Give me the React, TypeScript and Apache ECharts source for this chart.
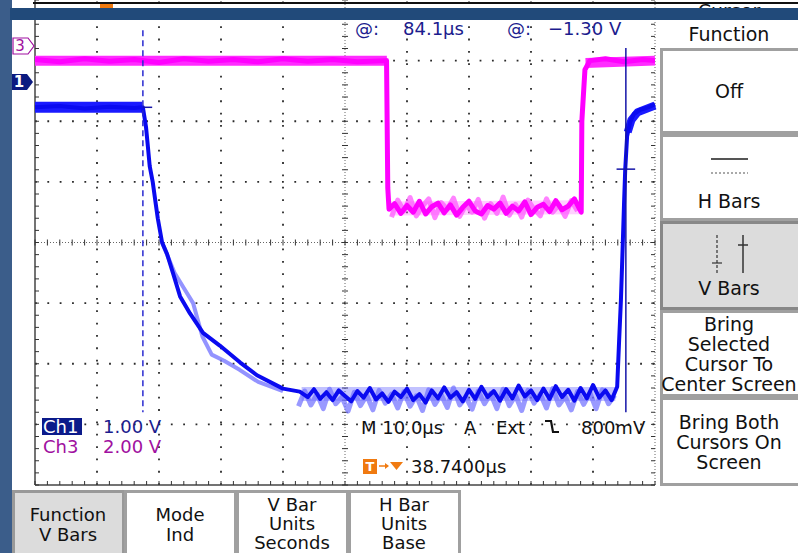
import React, { useEffect, useRef } from "react";
import * as echarts from "echarts";

const FONT = "DejaVu Sans";

// 10 µs per division horizontally (10 div), 8 vertical divisions
const timeRange = [0, 100];
const divRange = [-4, 4];
const timeGridLines = [0, 10, 20, 30, 40, 50, 60, 70, 80, 90, 100];
const divGridLines = [-4, -3, -2, -1, 0, 1, 2, 3, 4];

// Ch3 (magenta) trace, in µs / divisions
const ch3Trace = [
  [0, 3.02], [4, 2.98], [8, 3.03], [12, 2.99], [16, 3.02], [20, 2.97], [24, 3.03], [28, 2.99],
  [32, 3.02], [36, 2.98], [40, 3.03], [44, 2.99], [48, 3.02], [52, 2.98], [56.7, 3.0],
  [56.9, 0.9], [57.1, 0.55],
  [58, 0.64], [59, 0.48], [60, 0.61], [61, 0.5], [62, 0.68], [63, 0.47], [64, 0.59], [65, 0.65],
  [66, 0.49], [67, 0.62], [68, 0.45], [69, 0.58], [70, 0.68], [71, 0.52], [72, 0.47], [73, 0.61],
  [74, 0.55], [75, 0.65], [76, 0.48], [77, 0.6], [78, 0.52], [79, 0.67], [80, 0.46], [81, 0.58],
  [82, 0.63], [83, 0.51], [84, 0.69], [85, 0.54], [86, 0.6], [87, 0.72], [87.8, 0.56],
  [88.1, 0.5], [88.2, 2.0], [88.7, 2.85], [89.5, 3.0], [92, 3.03], [95, 2.98], [98, 3.02], [100, 3.0],
];
const ch3LowGhost = [
  [57.5, 0.42], [58.5, 0.7], [59.5, 0.52], [60.5, 0.74], [61.5, 0.44], [62.5, 0.6], [63.5, 0.72],
  [64.5, 0.41], [65.5, 0.66], [66.5, 0.55], [67.5, 0.73], [68.5, 0.43], [69.5, 0.62], [70.5, 0.5],
  [71.5, 0.71], [72.5, 0.4], [73.5, 0.64], [74.5, 0.48], [75.5, 0.75], [76.5, 0.45], [77.5, 0.63],
  [78.5, 0.42], [79.5, 0.7], [80.5, 0.55], [81.5, 0.44], [82.5, 0.72], [83.5, 0.5], [84.5, 0.62],
  [85.5, 0.43], [86.5, 0.69], [87.5, 0.52],
];
const ch3HighBandA = [[0, 3.0], [56.75, 3.0]];
const ch3HighBandB = [[88.8, 2.96], [100, 3.0]];
const ch3LowBand = [[57.3, 0.56], [87.8, 0.58]];

// Ch1 (blue) trace
const ch1Trace = [
  [0, 2.23], [4, 2.25], [8, 2.21], [12, 2.24], [16, 2.22], [17.4, 2.23],
  [17.9, 1.91], [18.2, 1.59], [18.5, 1.26], [19.0, 0.99], [19.5, 0.62], [19.8, 0.4], [20.5, 0.0],
  [21.3, -0.19], [22.3, -0.52], [23.4, -0.89], [25.0, -1.17], [27.1, -1.49], [29.8, -1.7],
  [33.1, -1.98], [35.8, -2.19], [40.0, -2.41], [42.7, -2.46],
  [44, -2.55], [45, -2.42], [46, -2.58], [47, -2.47], [48, -2.6], [49, -2.44], [50, -2.53],
  [51, -2.62], [52, -2.45], [53, -2.56], [54, -2.4], [55, -2.59], [56, -2.49], [57, -2.63],
  [58, -2.46], [59, -2.55], [60, -2.41], [61, -2.6], [62, -2.5], [63, -2.64], [64, -2.44],
  [65, -2.57], [66, -2.39], [67, -2.56], [68, -2.47], [69, -2.62], [70, -2.43], [71, -2.58],
  [72, -2.38], [73, -2.55], [74, -2.45], [75, -2.61], [76, -2.42], [77, -2.57], [78, -2.36],
  [79, -2.54], [80, -2.44], [81, -2.6], [82, -2.41], [83, -2.58], [84, -2.37], [85, -2.55],
  [86, -2.43], [87, -2.61], [88, -2.4], [89, -2.57], [90, -2.35], [91, -2.56], [92, -2.44],
  [93, -2.6],
  [93.9, -2.38], [94.2, -1.65], [94.5, -0.96], [94.8, -0.03], [95.0, 0.62], [95.2, 1.21],
  [95.5, 1.75], [96.0, 1.99], [96.6, 2.12], [97.6, 2.19], [98.9, 2.23], [100, 2.28],
];
const ch1LowGhost = [
  [42.5, -2.7], [43.5, -2.45], [44.5, -2.68], [45.5, -2.5], [46.5, -2.74], [47.5, -2.42],
  [48.5, -2.66], [49.5, -2.55], [50.5, -2.78], [51.5, -2.47], [52.5, -2.69], [53.5, -2.52],
  [54.5, -2.76], [55.5, -2.44], [56.5, -2.65], [57.5, -2.5], [58.5, -2.73], [59.5, -2.46],
  [60.5, -2.7], [61.5, -2.53], [62.5, -2.77], [63.5, -2.43], [64.5, -2.67], [65.5, -2.51],
  [66.5, -2.72], [67.5, -2.4], [68.5, -2.68], [69.5, -2.55], [70.5, -2.75], [71.5, -2.45],
  [72.5, -2.66], [73.5, -2.49], [74.5, -2.74], [75.5, -2.42], [76.5, -2.69], [77.5, -2.52],
  [78.5, -2.77], [79.5, -2.44], [80.5, -2.65], [81.5, -2.5], [82.5, -2.73], [83.5, -2.41],
  [84.5, -2.68], [85.5, -2.54], [86.5, -2.76], [87.5, -2.46], [88.5, -2.67], [89.5, -2.48],
  [90.5, -2.74], [91.5, -2.43], [92.5, -2.66], [93.5, -2.52],
];
const ch1HighBand = [[0, 2.23], [17.3, 2.23]];
const ch1LowBand = [[43, -2.5], [93.6, -2.5]];
const ch1FallGhost = [
  [20.5, 0.0], [22.5, -0.5], [24.0, -0.75], [25.5, -1.0], [27.0, -1.55], [28.5, -1.85],
  [30.5, -1.95], [33, -2.1], [36, -2.3], [40, -2.45],
];
const ch1EndBand = [[95.6, 1.82], [96.2, 2.02], [97.2, 2.15], [100, 2.26]];

// cursors
const cursor1Time = 17.4;
const cursor2Time = 95.3;
const cursor1Level = 2.23;
const cursor2Level = 1.21;
const cursor1Top = 3.5;
const cursor2Top = 3.21;
const cursorBottom = -2.8;

const renderGraticule = (_params: any, api: any) => {
  const c = (x: number, y: number) => api.coord([x, y]);
  const ch: any[] = [];
  const L = (x1: number, y1: number, x2: number, y2: number, style: any) =>
    ch.push({ type: "line", shape: { x1, y1, x2, y2 }, style });
  const dot = { stroke: "#2a2a2a", lineWidth: 1.8, lineDash: [1.8, 10.55], fill: null };
  const fine = { stroke: "#666", lineWidth: 1, lineDash: [1, 2], fill: null };
  const solid = { stroke: "#444", lineWidth: 1.5, fill: null };
  const tick = { stroke: "#333", lineWidth: 1, fill: null };
  const mid = (timeRange[0] + timeRange[1]) / 2;
  for (const t of timeGridLines) {
    if (t === timeRange[0] || t === timeRange[1] || t === mid) continue;
    const [x, yBot] = c(t, divRange[0]);
    const [, yTop] = c(t, divRange[1]);
    L(x, yBot, x, yTop, dot);
  }
  for (const v of divGridLines) {
    if (v === divRange[0] || v === divRange[1] || v === 0) continue;
    const [xl, y] = c(timeRange[0], v);
    const [xr] = c(timeRange[1], v);
    L(xl, y, xr, y, dot);
  }
  const [cx0, cy0] = c(mid, 0);
  const [xl0] = c(timeRange[0], 0);
  const [xr0] = c(timeRange[1], 0);
  const [, yT] = c(mid, divRange[1]);
  const [, yB] = c(mid, divRange[0]);
  L(xl0, cy0, xr0, cy0, fine);
  L(cx0, yB, cx0, yT, fine);
  L(xl0, yB, xl0, yT, solid);
  L(xl0, yB, xr0, yB, solid);
  L(xr0, yB, xr0, yT, fine);
  for (let i = 0; i <= 50; i++) {
    const t = timeRange[0] + i * 2;
    const [x] = c(t, 0);
    L(x, cy0 - 3, x, cy0 + 3, tick);
    L(x, yB, x, yB - 4, tick);
  }
  for (let i = 0; i <= 40; i++) {
    const v = divRange[0] + i * 0.2;
    const [, y] = c(mid, v);
    L(cx0 - 3, y, cx0 + 3, y, tick);
    L(xl0, y, xl0 + 4, y, tick);
    L(xr0, y, xr0 - 4, y, tick);
  }
  return { type: "group", children: ch };
};

const lineSeries = (data: number[][], color: string, width: number, z = 3, type: any = "solid") => ({
  type: "line",
  data,
  showSymbol: false,
  symbol: "none",
  silent: true,
  z,
  lineStyle: { color, width, type, cap: "butt", join: "round" },
});

const txt = (text: string, x: number, y: number, o: any = {}) => ({
  type: "text",
  x,
  y,
  z: o.z ?? 50,
  style: {
    text,
    fill: o.fill ?? "#111",
    font: `${o.weight ?? "normal"} ${o.size ?? 19}px "${FONT}"`,
    textAlign: o.align ?? "center",
    textVerticalAlign: "middle",
    align: o.align ?? "center",
    verticalAlign: "middle",
  },
});

const rect = (x: number, y: number, w: number, h: number, fill: string, stroke?: string, lw = 0, z = 20) => ({
  type: "rect",
  z,
  shape: { x, y, width: w, height: h },
  style: { fill, stroke: stroke ?? null, lineWidth: lw },
});

const gline = (x1: number, y1: number, x2: number, y2: number, stroke: string, lw = 1.5, dash?: number[], z = 30) => ({
  type: "line",
  z,
  shape: { x1, y1, x2, y2 },
  style: { stroke, lineWidth: lw, lineDash: dash ?? null },
});

export default function App() {
  const ref = useRef<HTMLDivElement>(null);
  useEffect(() => {
    if (!ref.current) return;
    const chart = echarts.init(ref.current, null, { renderer: "svg" });
    const navy = "#1c1c8e";
    const purple = "#a010a0";
    const R = 18;
    const B = { size: 18 };
    const graphic: any[] = [
      rect(0, 0, 12, 553, "#3b5d8a", undefined, 0, 90),
      rect(33, 2, 765, 2, "#111", undefined, 0, 90),
      rect(100, 4, 13, 4, "#f07a10", undefined, 0, 90),
      rect(10, 8, 788, 12, "#214a7a", undefined, 0, 100),
      txt("Cursor", 729, 11),
      txt("Function", 729, 34),
      rect(661.5, 49.5, 140, 83, "#fff", "#a0a0a0", 3),
      rect(661.5, 135.5, 140, 84, "#fff", "#a0a0a0", 3),
      rect(661.5, 222.5, 140, 86, "#dcdcdc", "#888", 3),
      rect(661.5, 311.5, 140, 84, "#fff", "#a0a0a0", 3),
      rect(661.5, 398.5, 140, 86, "#fff", "#a0a0a0", 3),
      txt("Off", 729, 91),
      gline(711, 159, 748, 159, "#555", 2),
      gline(711, 173, 748, 173, "#555", 1.2, [2, 2]),
      txt("H Bars", 729, 201),
      gline(717, 235, 717, 273, "#333", 1.2, [3, 2]),
      gline(712, 263, 722, 263, "#333", 1.2),
      gline(743, 235, 743, 273, "#333", 1.5),
      gline(738, 245, 748, 245, "#333", 1.5),
      txt("V Bars", 729, 288),
      txt("Bring", 729, 324),
      txt("Selected", 729, 344),
      txt("Cursor To", 729, 364),
      txt("Center Screen", 729, 384),
      txt("Bring Both", 729, 422),
      txt("Cursors On", 729, 442),
      txt("Screen", 729, 462),
      rect(13.5, 491.5, 110, 70, "#dcdcdc", "#999", 3),
      rect(125.5, 491.5, 110, 70, "#fff", "#a0a0a0", 3),
      rect(237.5, 491.5, 110, 70, "#fff", "#a0a0a0", 3),
      rect(349.5, 491.5, 110, 70, "#fff", "#a0a0a0", 3),
      txt("Function", 68, 514, B),
      txt("V Bars", 68, 534, B),
      txt("Mode", 180, 514, B),
      txt("Ind", 180, 534, B),
      txt("V Bar", 292, 504, B),
      txt("Units", 292, 523, B),
      txt("Seconds", 292, 542, B),
      txt("H Bar", 404, 504, B),
      txt("Units", 404, 523, B),
      txt("Base", 404, 542, B),
      txt("@:", 355, 28, { fill: navy, align: "left", size: R }),
      txt("84.1µs", 403, 28, { fill: navy, align: "left", size: R }),
      txt("@:", 507, 28, { fill: navy, align: "left", size: R }),
      txt("−1.30 V", 548, 28, { fill: navy, align: "left", size: R }),
      {
        type: "polygon", z: 40,
        shape: { points: [[13, 38], [28, 38], [34, 46], [28, 54], [13, 54]] },
        style: { fill: "#fff", stroke: purple, lineWidth: 1.2 },
      },
      txt("3", 20, 46, { fill: purple, size: 15 }),
      {
        type: "polygon", z: 40,
        shape: { points: [[12, 74], [27, 74], [33, 82], [27, 90], [12, 90]] },
        style: { fill: "#0b1a80" },
      },
      txt("1", 19, 82, { fill: "#fff", size: 15, weight: "bold" }),
      rect(42, 418, 40, 17, "#0b1a8a", undefined, 0, 45),
      txt("Ch1", 43, 426.5, { fill: "#fff", align: "left", size: R }),
      txt("1.00 V", 103, 426.5, { fill: navy, align: "left", size: R }),
      txt("Ch3", 43, 446, { fill: purple, align: "left", size: R }),
      txt("2.00 V", 103, 446, { fill: purple, align: "left", size: R }),
      txt("M 10.0µs", 361, 427, { align: "left", size: R }),
      txt("A", 464, 427, { align: "left", size: R }),
      txt("Ext", 496, 427, { align: "left", size: R }),
      {
        type: "polyline", z: 50,
        shape: { points: [[545, 421], [551, 421], [553, 432], [559, 432]] },
        style: { stroke: "#111", lineWidth: 2.2, fill: null },
      },
      txt("800mV", 581, 427, { align: "left", size: R }),
      rect(363, 459, 14, 15, "#f07a10", undefined, 0, 45),
      txt("T", 370, 466.5, { fill: "#fff", size: 13, weight: "bold" }),
      gline(379, 466, 388, 466, "#f07a10", 1.5, undefined, 45),
      {
        type: "polygon", z: 45,
        shape: { points: [[385, 463], [389, 466], [385, 469]] },
        style: { fill: "#f07a10" },
      },
      {
        type: "polygon", z: 45,
        shape: { points: [[390, 462], [403, 462], [396.5, 470]] },
        style: { fill: "#f07a10" },
      },
      txt("38.7400µs", 411, 466, { align: "left", size: R }),
    ];

    chart.setOption({
      animation: false,
      backgroundColor: "#ffffff",
      grid: { left: 35, top: -9, width: 620, height: 494, containLabel: false },
      xAxis: { type: "value", min: timeRange[0], max: timeRange[1], show: false },
      yAxis: { type: "value", min: divRange[0], max: divRange[1], show: false },
      series: [
        { type: "custom", data: [[0, 0]], renderItem: renderGraticule, silent: true, z: 1, clip: false },
        lineSeries(ch3HighBandA, "#ff2cff", 10, 2),
        lineSeries(ch3HighBandB, "#ff2cff", 10, 2),
        lineSeries(ch3LowBand, "rgba(255,120,255,0.35)", 14, 2),
        lineSeries(ch3LowGhost, "rgba(255,90,255,0.75)", 5, 2),
        lineSeries(ch3Trace, "#ff00ff", 5, 3),
        lineSeries(ch1HighBand, "#1a1aff", 11, 4),
        lineSeries(ch1LowBand, "rgba(80,80,255,0.35)", 14, 4),
        lineSeries(ch1LowGhost, "rgba(110,110,255,0.7)", 5, 4),
        lineSeries(ch1FallGhost, "rgba(120,120,255,0.8)", 4, 4),
        lineSeries(ch1EndBand, "#1a1aff", 8, 4),
        lineSeries(ch1Trace, "#0a0af0", 4, 5),
        lineSeries([[cursor1Time, cursor1Top], [cursor1Time, cursorBottom]], "#2a2ad0", 1.5, 6, [6, 4]),
        lineSeries([[cursor2Time, cursor2Top], [cursor2Time, cursorBottom]], "#1515a8", 1.5, 6),
        lineSeries([[cursor1Time, cursor1Level], [cursor1Time + 1.5, cursor1Level]], "#1515a8", 1.5, 6),
        lineSeries([[cursor2Time - 1.5, cursor2Level], [cursor2Time + 1.5, cursor2Level]], "#1515a8", 1.5, 6),
      ],
      graphic,
    });
    return () => chart.dispose();
  }, []);
  return (
    <div
      ref={ref}
      style={{ position: "absolute", left: 0, top: 0, width: 798, height: 553, background: "#fff" }}
    />
  );
}
